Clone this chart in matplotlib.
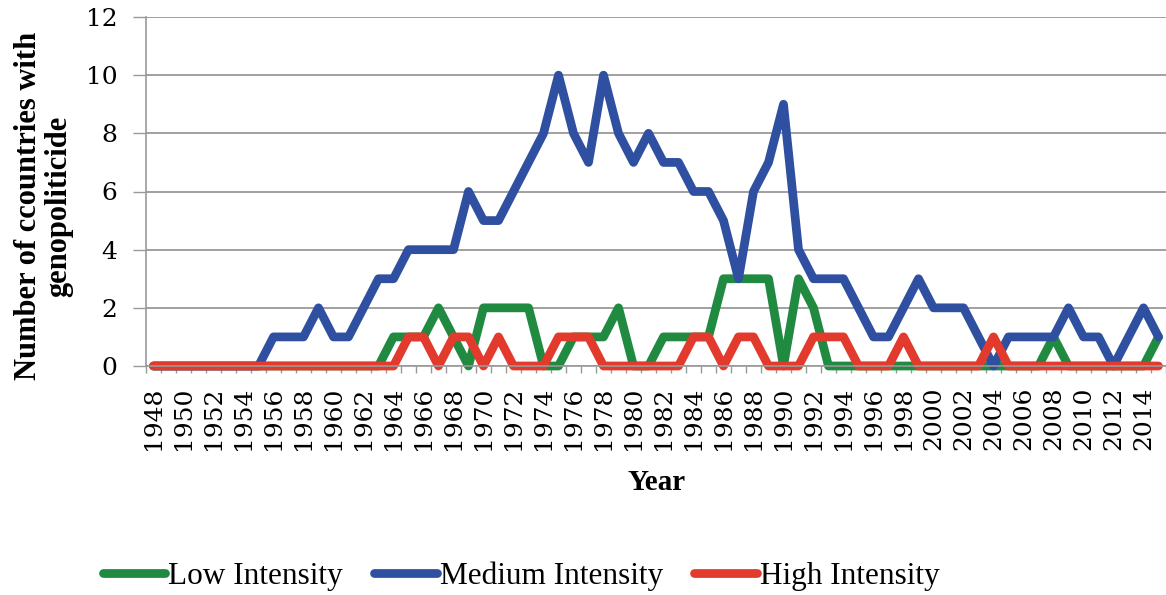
import numpy as np
import matplotlib.pyplot as plt

# Countries with genopoliticide per year, by intensity
years = list(range(1948, 2016))
low = [0] * 16 + [1, 1, 1, 2, 1, 0, 2, 2, 2, 2, 0, 0,
                  1, 1, 1, 2, 0, 0, 1, 1, 1, 1, 3, 3,
                  3, 3, 0, 3, 2, 0, 0, 0, 0, 0, 0, 0,
                  0, 0, 0, 0, 0, 0, 0, 0, 1, 0, 0, 0, 0, 0, 0, 1]
medium = [0] * 8 + [1, 1, 1, 2, 1, 1, 2, 3, 3, 4, 4, 4,
                    4, 6, 5, 5, 6, 7, 8, 10, 8, 7, 10, 8,
                    7, 8, 7, 7, 6, 6, 5, 3, 6, 7, 9, 4,
                    3, 3, 3, 2, 1, 1, 2, 3, 2, 2, 2, 1,
                    0, 1, 1, 1, 1, 2, 1, 1, 0, 1, 2, 1]
high = [0] * 17 + [1, 1, 0, 1, 1, 0, 1, 0, 0, 0, 1, 1,
                   1, 0, 0, 0, 0, 0, 0, 1, 1, 0, 1, 1,
                   0, 0, 0, 1, 1, 1, 0, 0, 0, 1, 0, 0,
                   0, 0, 0, 1, 0, 0, 0, 0, 0, 0, 0, 0, 0, 0, 0]

series = [("Low Intensity", low, "#1f8a40"),
          ("Medium Intensity", medium, "#2f50a0"),
          ("High Intensity", high, "#e23a2c")]

plt.rcParams['font.family'] = 'Liberation Serif'

fig = plt.figure(figsize=(11.66, 5.95), dpi=100)
ax = fig.add_axes([146 / 1166, 1 - 366 / 595, 1 - 146 / 1166, (366 - 17) / 595])

for name, vals, col in series:
    ax.plot(years, vals, color=col, lw=6.3, label=name, clip_on=False,
            solid_joinstyle='round', solid_capstyle='round')

ax.set_xlim(1947.5, 2015.5)
ax.set_ylim(0, 12)
ax.set_yticks(range(0, 13, 2))
ax.set_xticks(years[::2])
ax.set_xticklabels([str(y) for y in years[::2]], rotation=90)
ax.set_xticks(np.arange(1947.5, 2016, 1), minor=True)
for lbl in ax.get_xticklabels() + ax.get_yticklabels():
    lbl.set_fontfamily('DejaVu Serif')

ax.tick_params(axis='y', labelsize=18, length=9.5, width=1, color='#999999', pad=11)
ax.tick_params(axis='x', which='major', labelsize=18, length=0, pad=15)
ax.tick_params(axis='x', which='minor', length=5, width=1, color='#999999')

ax.grid(axis='y', color='#a0a0a0', lw=1.4)
ax.set_axisbelow(True)
for s in ['top', 'right']:
    ax.spines[s].set_visible(False)
for s in ['left', 'bottom']:
    ax.spines[s].set_color('#999999')
    ax.spines[s].set_linewidth(1.2)

fig.text(44 / 1166, 1 - 206 / 595, "Number of ccountries with\ngenopoliticide",
         rotation=90, ha='center', va='center', fontsize=22, fontweight='bold',
         multialignment='center', linespacing=1.05)
fig.text(657 / 1166, 1 - 483 / 595, "Year", ha='center', va='center',
         fontsize=21, fontweight='bold')

fig.legend(loc='center', bbox_to_anchor=(521 / 1166, 1 - 576 / 595), ncol=3,
           frameon=False, fontsize=22.5, handlelength=2.0, handletextpad=0.1,
           columnspacing=1.0, borderpad=0)

fig.savefig("out.png", dpi=100)
